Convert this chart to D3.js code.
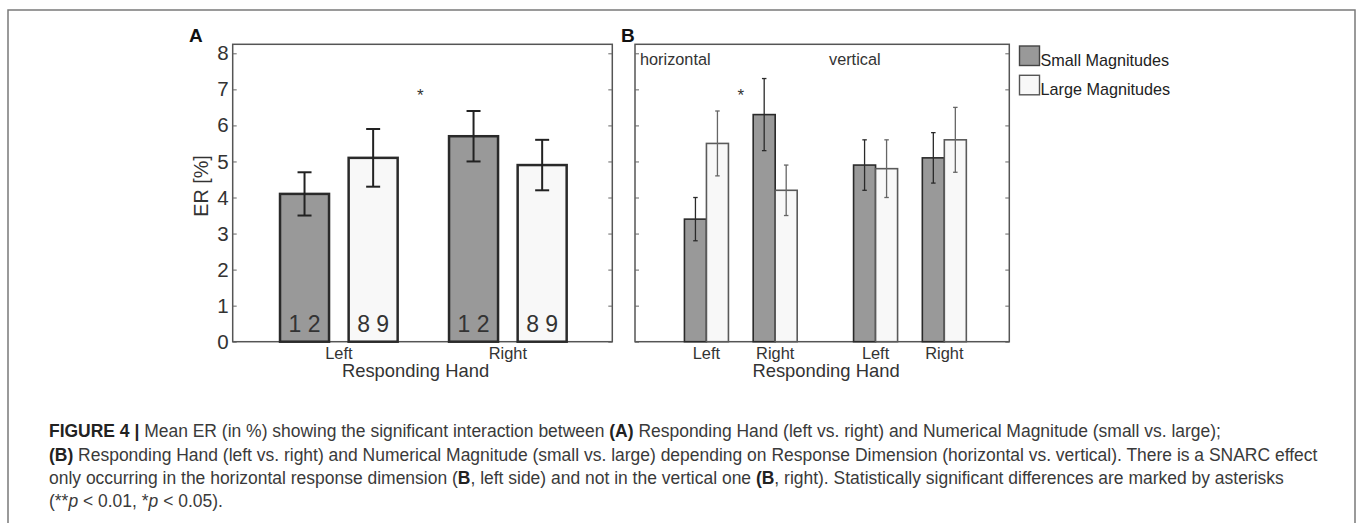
<!DOCTYPE html>
<html><head><meta charset="utf-8">
<script src="https://cdn.jsdelivr.net/npm/d3@7"></script>
<style>body{margin:0;background:#fff} svg{display:block}</style>
</head><body>
<svg id="c" width="1357" height="523"></svg>
<script>
// ---------- data ----------
const handsA = ["Left", "Right"];
const seriesNames = ["Small Magnitudes", "Large Magnitudes"];
const digitLabels = ["1 2", "8 9"];
const smallA = [4.1, 5.7];
const smallAErr = [0.6, 0.7];
const largeA = [5.1, 4.9];
const largeAErr = [0.8, 0.7];

const dimensions = ["horizontal", "vertical"];
const handsB = ["Left", "Right", "Left", "Right"];
const smallB = [3.4, 6.3, 4.9, 5.1];
const smallBErr = [0.6, 1.0, 0.7, 0.7];
const largeB = [5.5, 4.2, 4.8, 5.6];
const largeBErr = [0.9, 0.7, 0.8, 0.9];

const yTicks = [0, 1, 2, 3, 4, 5, 6, 7, 8];
const sigA = [{between: [0, 1], y: 6.9, label: "*"}];
const sigB = [{between: [0, 1], y: 6.9, label: "*"}];

// ---------- layout ----------
const svg = d3.select("#c");
const FONT = "'Liberation Sans', Arial, Helvetica, sans-serif";
const plotTop = 44.3, plotBottom = 341.7;
const y = d3.scaleLinear().domain([0, 8.25]).range([plotBottom, plotTop]);

// outer frame
svg.append("path").attr("d", "M8,540V10H1355V540")
  .attr("fill", "none").attr("stroke", "#7a7a7a").attr("stroke-width", 1.5);

function drawFrame(g, x0, x1, labels) {
  g.append("rect").attr("x", x0).attr("y", plotTop).attr("width", x1 - x0).attr("height", plotBottom - plotTop)
    .attr("fill", "#fff").attr("stroke", "#555").attr("stroke-width", 1.5);
  const left = g.append("g").attr("transform", `translate(${x0},0)`)
    .call(d3.axisLeft(y).tickValues(yTicks).tickSize(-4).tickPadding(4)
      .tickFormat(labels ? d3.format("d") : () => ""));
  left.select(".domain").remove();
  left.selectAll(".tick line").attr("stroke", "#666");
  left.selectAll(".tick text").attr("font-family", FONT).attr("font-size", 20.5).attr("fill", "#333");
  const right = g.append("g").attr("transform", `translate(${x1},0)`)
    .call(d3.axisRight(y).tickValues(yTicks).tickSize(-4).tickFormat(() => ""));
  right.select(".domain").remove();
  right.selectAll(".tick line").attr("stroke", "#666");
}

function errBar(g, cx, v, e, cap, color, w) {
  g.append("line").attr("x1", cx).attr("x2", cx).attr("y1", y(v - e)).attr("y2", y(v + e))
    .attr("stroke", color).attr("stroke-width", w);
  [v - e, v + e].forEach(t => g.append("line").attr("x1", cx - cap / 2).attr("x2", cx + cap / 2)
    .attr("y1", y(t)).attr("y2", y(t)).attr("stroke", color).attr("stroke-width", w));
}

// ---------- Panel A ----------
const gA = svg.append("g");
const xA = d3.scaleLinear().domain([0.372, 2.618]).range([232.7, 612.3]);
drawFrame(gA, 232.7, 612.3, true);
const offA = 0.203, bwA = 0.29;
const seriesA = [
  {vals: smallA, errs: smallAErr, fill: "#999999", dx: -offA, label: digitLabels[0]},
  {vals: largeA, errs: largeAErr, fill: "#f8f8f8", dx: offA, label: digitLabels[1]}
];
seriesA.forEach(s => {
  s.vals.forEach((v, i) => {
    const c = i + 1 + s.dx;
    gA.append("rect").attr("x", xA(c - bwA / 2)).attr("y", y(v))
      .attr("width", xA(c + bwA / 2) - xA(c - bwA / 2)).attr("height", y(0) - y(v))
      .attr("fill", s.fill).attr("stroke", "#2a2a2a").attr("stroke-width", 2.5);
    gA.append("text").attr("x", xA(c)).attr("y", 331.7).attr("text-anchor", "middle")
      .attr("font-family", FONT).attr("font-size", 23).attr("fill", "#333").text(s.label);
  });
});
seriesA.forEach(s => s.vals.forEach((v, i) => errBar(gA, xA(i + 1 + s.dx), v, s.errs[i], 14, "#222", 2)));
handsA.forEach((h, i) => gA.append("text").attr("x", xA(i + 1)).attr("y", 359)
  .attr("text-anchor", "middle").attr("font-family", FONT).attr("font-size", 16.4).attr("fill", "#333").text(h));
gA.append("text").attr("x", (232.7 + 612.3) / 2 - 7).attr("y", 377).attr("text-anchor", "middle")
  .attr("font-family", FONT).attr("font-size", 18.4).attr("fill", "#333").text("Responding Hand");
gA.append("text").attr("transform", "translate(207.5,186) rotate(-90)").attr("text-anchor", "middle")
  .attr("font-family", FONT).attr("font-size", 19.8).attr("fill", "#333").text("ER [%]");
sigA.forEach(s => gA.append("text").attr("x", xA((s.between[0] + s.between[1]) / 2 + 1) - 3).attr("y", y(s.y) + 8)
  .attr("text-anchor", "middle").attr("font-family", FONT).attr("font-size", 17).attr("fill", "#333").text(s.label));
gA.append("text").attr("x", 189).attr("y", 41.7).attr("font-family", FONT).attr("font-weight", "bold")
  .attr("font-size", 19).attr("fill", "#111").text("A");

// ---------- Panel B ----------
const gB = svg.append("g");
const xB = d3.scaleLinear().domain([-0.039, 5.405]).range([635, 1009.3]);
drawFrame(gB, 635, 1009.3, false);
const dimGap = 2.46;
const posB = handsB.map((h, i) => 1 + (i % 2) + Math.floor(i / 2) * dimGap);
const offB = 0.16, bwB = 0.32;
const seriesB = [
  {vals: smallB, errs: smallBErr, fill: "#999999", stroke: "#2a2a2a", err: "#2a2a2a", dx: -offB},
  {vals: largeB, errs: largeBErr, fill: "#f8f8f8", stroke: "#5a5a5a", err: "#666", dx: offB}
];
seriesB.forEach(s => s.vals.forEach((v, i) => {
  const c = posB[i] + s.dx;
  gB.append("rect").attr("x", xB(c - bwB / 2)).attr("y", y(v))
    .attr("width", xB(c + bwB / 2) - xB(c - bwB / 2)).attr("height", y(0) - y(v))
    .attr("fill", s.fill).attr("stroke", s.stroke).attr("stroke-width", 1.6);
}));
seriesB.forEach(s => s.vals.forEach((v, i) => errBar(gB, xB(posB[i] + s.dx), v, s.errs[i], 4.5, s.err, 1.3)));
handsB.forEach((h, i) => gB.append("text").attr("x", xB(posB[i])).attr("y", 358.5)
  .attr("text-anchor", "middle").attr("font-family", FONT).attr("font-size", 16.4).attr("fill", "#333").text(h));
gB.append("text").attr("x", 826).attr("y", 377).attr("text-anchor", "middle")
  .attr("font-family", FONT).attr("font-size", 18.4).attr("fill", "#333").text("Responding Hand");
const dimX = [640, 829];
dimensions.forEach((d, i) => gB.append("text").attr("x", dimX[i]).attr("y", 65)
  .attr("font-family", FONT).attr("font-size", 16.3).attr("fill", "#333").text(d));
sigB.forEach(s => gB.append("text").attr("x", xB((posB[s.between[0]] + posB[s.between[1]]) / 2)).attr("y", y(s.y) + 8)
  .attr("text-anchor", "middle").attr("font-family", FONT).attr("font-size", 17).attr("fill", "#333").text(s.label));
gB.append("text").attr("x", 621).attr("y", 41.7).attr("font-family", FONT).attr("font-weight", "bold")
  .attr("font-size", 19).attr("fill", "#111").text("B");

// legend
const legFills = [["#999999", "#444"], ["#f8f8f8", "#555"]];
seriesNames.forEach((n, i) => {
  const yy = 46 + i * 29.3;
  svg.append("rect").attr("x", 1019.5).attr("y", yy).attr("width", 20).attr("height", 19.5)
    .attr("fill", legFills[i][0]).attr("stroke", legFills[i][1]).attr("stroke-width", 1.4);
  svg.append("text").attr("x", 1040.5).attr("y", yy + 20).attr("font-family", FONT).attr("font-size", 16.2)
    .attr("fill", "#222").text(n);
});

// ---------- caption ----------
const captionLines = [
  [["b", "FIGURE 4 | "], ["n", "Mean ER (in %) showing the significant interaction between "], ["b", "(A)"], ["n", " Responding Hand (left vs. right) and Numerical Magnitude (small vs. large);"]],
  [["b", "(B)"], ["n", " Responding Hand (left vs. right) and Numerical Magnitude (small vs. large) depending on Response Dimension (horizontal vs. vertical). There is a SNARC effect"]],
  [["n", "only occurring in the horizontal response dimension ("], ["b", "B"], ["n", ", left side) and not in the vertical one "], ["b", "(B"], ["n", ", right). Statistically significant differences are marked by asterisks"]],
  [["n", "(**"], ["i", "p"], ["n", " < 0.01, *"], ["i", "p"], ["n", " < 0.05)."]]
];
const capBase = [437, 460.5, 483.5, 506.5];
const capNodes = captionLines.map((parts, li) => {
  const t = svg.append("text").attr("x", 49).attr("y", capBase[li]).attr("font-family", FONT)
    .attr("font-size", 15).attr("fill", "#3a3a3a").attr("xml:space", "preserve");
  parts.forEach(([k, s]) => {
    const ts = t.append("tspan").text(s);
    if (k === "b") ts.attr("font-weight", "bold").attr("fill", "#222");
    if (k === "i") ts.attr("font-style", "italic");
  });
  return t;
});
// fit font size so line 2 ends where the reference line ends
const w2 = capNodes[1].node().getComputedTextLength();
const fs = 15 * (1318 - 49) / w2;
capNodes.forEach(t => t.attr("font-size", fs));
</script>
</body></html>
